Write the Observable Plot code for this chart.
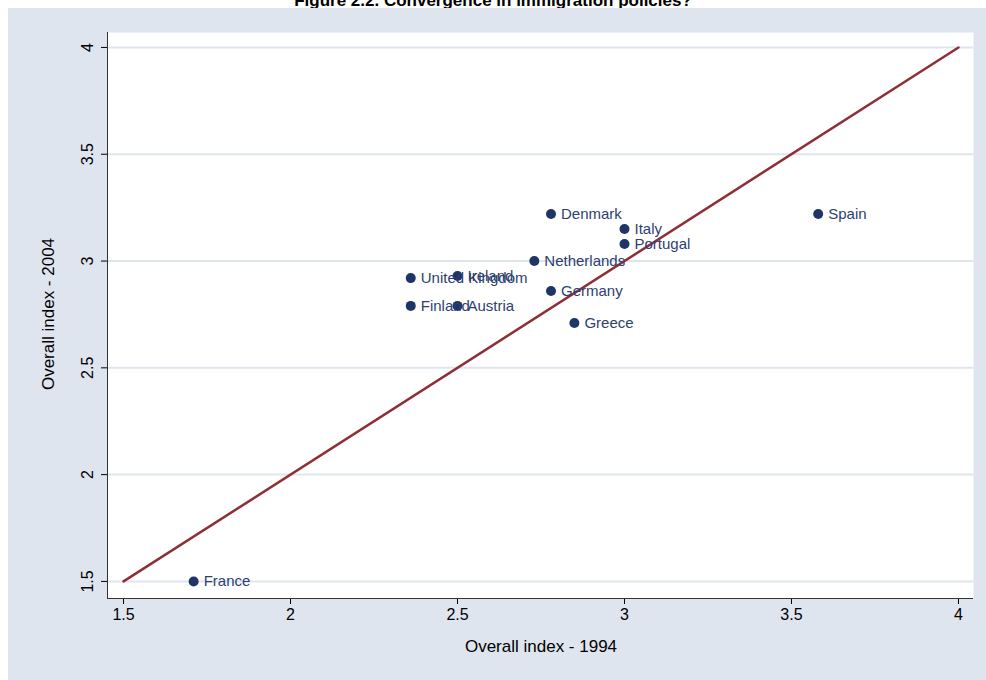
<!DOCTYPE html>
<html><head><meta charset="utf-8">
<script src="https://cdn.jsdelivr.net/npm/d3@7"></script>
<script src="https://cdn.jsdelivr.net/npm/@observablehq/plot@0.6"></script>
<style>
body{margin:0;background:#fff;font-family:Arial,"Liberation Sans",sans-serif;overflow:hidden;width:986px;height:680px;position:relative}
#title{position:absolute;top:-9px;left:0;width:986px;text-align:center;font-weight:bold;font-size:17px}
#panel{position:absolute;left:8px;top:8px;width:978px;height:672px;background:#dfe5ef}
</style></head><body>
<div id="title">Figure 2.2. Convergence in immigration policies?</div>
<div id="panel"></div>
<script>
// country scores, 1994 vs 2004
const countries = ["France","Spain","Denmark","Italy","Portugal","Netherlands","Ireland","United Kingdom","Germany","Finland","Austria","Greece"];
const index1994 = [1.71,3.58,2.78,3.0,3.0,2.73,2.5,2.36,2.78,2.36,2.5,2.85];
const index2004 = [1.5,3.22,3.22,3.15,3.08,3.0,2.93,2.92,2.86,2.79,2.79,2.71];
const ticks = [1.5,2,2.5,3,3.5,4];

const data = countries.map((c, i) => ({country: c, x: index1994[i], y: index2004[i]}));
const diag = [{v: 1.5}, {v: 4}];
const x0 = 1.452, y0 = 1.42;

const chart = Plot.plot({
  width: 978, height: 672,
  marginLeft: 99, marginRight: 13, marginTop: 24, marginBottom: 82,
  style: {background: "transparent", fontSize: "16px", fontFamily: "Arial, 'Liberation Sans', sans-serif", color: "#000"},
  x: {domain: [x0, 4.045], ticks: ticks, tickFormat: d => d, label: null},
  y: {domain: [y0, 4.07], ticks: ticks, tickFormat: d => d, label: null},
  marks: [
    Plot.frame({fill: "white", stroke: null}),
    Plot.gridY(ticks, {stroke: "#dfe5ef", strokeOpacity: 1, strokeWidth: 2}),
    Plot.axisX({ticks: ticks, tickSize: 6, tickPadding: 4, fontSize: 16, tickFormat: d => d}),
    Plot.axisY({ticks: ticks, tickSize: 6, tickFormat: () => ""}),
    Plot.text(ticks, {x: x0, y: d => d, text: d => String(d), rotate: -90, dx: -20, fontSize: 16, fill: "#000"}),
    Plot.ruleX([x0], {stroke: "#333"}),
    Plot.ruleY([y0], {stroke: "#333"}),
    Plot.line(diag, {x: "v", y: "v", stroke: "#8f2f35", strokeWidth: 2.5}),
    Plot.dot(data, {x: "x", y: "y", r: 5, fill: "#1f3566"}),
    Plot.text(data, {x: "x", y: "y", text: "country", dx: 10, textAnchor: "start", fill: "#2c3f70", fontSize: 15})
  ]
});
document.getElementById("panel").append(chart);

const svg = d3.select(chart);
svg.append("text").attr("x", 533).attr("y", 644).attr("text-anchor", "middle")
  .attr("font-size", 17).text("Overall index - 1994");
svg.append("text").attr("transform", "translate(46,306) rotate(-90)").attr("text-anchor", "middle")
  .attr("font-size", 17).text("Overall index - 2004");
</script>
</body></html>
